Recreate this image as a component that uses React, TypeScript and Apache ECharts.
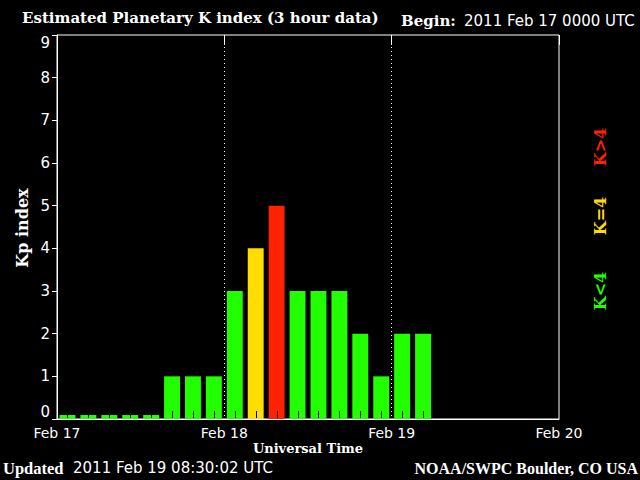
import React, { useEffect, useRef } from "react";
import * as echarts from "echarts";

const hours = ["00", "03", "06", "09", "12", "15", "18", "21"];
const days = ["Feb 17", "Feb 18", "Feb 19"];
const slotLabels = days.flatMap((d) => hours.map((h) => `${d} ${h}`));
// Kp values for the 3-hour slots that have data (Feb 17 00 UT .. Feb 19 03 UT)
const kpValues: number[] = [
  0, 0, 0, 0, 0, 1, 1, 1,
  3, 4, 5, 3, 3, 3, 2, 1,
  2, 2,
];
const dayTickLabels = ["Feb 17", "Feb 18", "Feb 19", "Feb 20"];
const kpTicks = [0, 1, 2, 3, 4, 5, 6, 7, 8, 9];

const GREEN = "#22ff00";
const YELLOW = "#ffdd00";
const RED = "#ff2200";

const SERIF = '"DejaVu Serif", "Liberation Serif", serif';
const LSERIF = '"Liberation Serif", "DejaVu Serif", serif';
const SANS = '"DejaVu Sans", "Liberation Sans", sans-serif';

function colorFor(v: number) {
  if (v > 4) return RED;
  if (v === 4) return YELLOW;
  return GREEN;
}

export default function App() {
  const ref = useRef<HTMLDivElement>(null);
  useEffect(() => {
    if (!ref.current) return;
    const chart = echarts.init(ref.current, undefined, { renderer: "svg" });
    chart.setOption({
      animation: false,
      backgroundColor: "#000",
      grid: {
        left: 57,
        right: 81,
        top: 35,
        bottom: 61,
        show: true,
        borderColor: "#fff",
        borderWidth: 1,
        backgroundColor: "transparent",
      },
      xAxis: [
        {
          type: "category",
          data: slotLabels,
          position: "bottom",
          z: 10,
          boundaryGap: true,
          axisLine: { show: true, lineStyle: { color: "#fff", width: 1 } },
          axisTick: { show: false },
          axisLabel: { show: false },
          splitLine: { show: false },
        },
        {
          type: "value",
          min: 0,
          max: 72,
          interval: 24,
          position: "bottom",
          axisLine: { show: false },
          axisTick: { show: false },
          axisLabel: {
            color: "#fff",
            fontFamily: SANS,
            fontSize: 14,
            margin: 7,
            formatter: (v: number) => dayTickLabels[Math.round(v / 24)] ?? "",
          },
          splitLine: {
            show: true,
            showMinLine: false,
            showMaxLine: false,
            lineStyle: { color: "#fff", width: 1, type: [1, 3] },
          },
        },
        {
          type: "value",
          min: 0,
          max: 72,
          interval: 24,
          position: "top",
          axisLine: { show: false },
          axisTick: {
            show: true,
            inside: true,
            length: 10,
            lineStyle: { color: "#fff", width: 1 },
          },
          axisLabel: { show: false },
          splitLine: { show: false },
        },
      ],
      yAxis: {
        type: "value",
        min: kpTicks[0],
        max: kpTicks[kpTicks.length - 1],
        interval: 1,
        axisLine: { show: true, lineStyle: { color: "#fff", width: 1 } },
        axisTick: { show: true, inside: false, length: 5, lineStyle: { color: "#fff" } },
        axisLabel: {
          color: "#fff",
          fontFamily: SANS,
          fontSize: 15,
          margin: 7,
          verticalAlignMinLabel: "bottom",
          verticalAlignMaxLabel: "top",
        },
        splitLine: { show: false },
      },
      series: [
        {
          type: "bar",
          xAxisIndex: 0,
          yAxisIndex: 0,
          barCategoryGap: "24%",
          barMinHeight: 4,
          z: 2,
          data: kpValues.map((v) => ({ value: v, itemStyle: { color: colorFor(v) } })),
        },
        {
          type: "custom",
          xAxisIndex: 0,
          yAxisIndex: 0,
          z: 3,
          silent: true,
          data: slotLabels.map((_, i) => [i, 0]),
          renderItem: (params: any, api: any) => {
            const p = api.coord([api.value(0), 0]);
            const x = Math.round(p[0]) + 0.5;
            return {
              type: "line",
              shape: { x1: x, y1: p[1] - 1, x2: x, y2: p[1] - 8 },
              style: { stroke: "#000", lineWidth: 1 },
            };
          },
        },
      ],
      graphic: [
        {
          type: "text",
          x: 22,
          y: 18,
          style: {
            text: "Estimated Planetary K index (3 hour data)",
            font: `bold 15px ${SERIF}`,
            fill: "#fff",
            textAlign: "left",
            textVerticalAlign: "middle",
          },
        },
        {
          type: "text",
          x: 401,
          y: 21,
          style: {
            text: "Begin:",
            font: `bold 15px ${SERIF}`,
            fill: "#fff",
            textAlign: "left",
            textVerticalAlign: "middle",
          },
        },
        {
          type: "text",
          x: 464,
          y: 21,
          style: {
            text: "2011 Feb 17 0000 UTC",
            font: `15px ${SANS}`,
            fill: "#fff",
            textAlign: "left",
            textVerticalAlign: "middle",
          },
        },
        {
          type: "text",
          x: 22,
          y: 228,
          rotation: Math.PI / 2,
          style: {
            text: "Kp index",
            font: `bold 16px ${SERIF}`,
            fill: "#fff",
            textAlign: "center",
            textVerticalAlign: "middle",
          },
        },
        {
          type: "text",
          x: 308,
          y: 448,
          style: {
            text: "Universal Time",
            font: `bold 13px ${SERIF}`,
            fill: "#fff",
            textAlign: "center",
            textVerticalAlign: "middle",
          },
        },
        {
          type: "text",
          x: 3,
          y: 468,
          style: {
            text: "Updated",
            font: `bold 16.5px ${LSERIF}`,
            fill: "#fff",
            textAlign: "left",
            textVerticalAlign: "middle",
          },
        },
        {
          type: "text",
          x: 73,
          y: 468,
          style: {
            text: "2011 Feb 19 08:30:02 UTC",
            font: `15px ${SANS}`,
            fill: "#fff",
            textAlign: "left",
            textVerticalAlign: "middle",
          },
        },
        {
          type: "text",
          x: 638,
          y: 468,
          style: {
            text: "NOAA/SWPC Boulder, CO USA",
            font: `bold 16px ${LSERIF}`,
            fill: "#fff",
            textAlign: "right",
            textVerticalAlign: "middle",
          },
        },
        {
          type: "text",
          x: 600,
          y: 147,
          rotation: Math.PI / 2,
          style: {
            text: "K>4",
            font: `bold 16px ${SERIF}`,
            fill: RED,
            textAlign: "center",
            textVerticalAlign: "middle",
          },
        },
        {
          type: "text",
          x: 600,
          y: 216,
          rotation: Math.PI / 2,
          style: {
            text: "K=4",
            font: `bold 16px ${SERIF}`,
            fill: YELLOW,
            textAlign: "center",
            textVerticalAlign: "middle",
          },
        },
        {
          type: "text",
          x: 600,
          y: 291,
          rotation: Math.PI / 2,
          style: {
            text: "K<4",
            font: `bold 16px ${SERIF}`,
            fill: GREEN,
            textAlign: "center",
            textVerticalAlign: "middle",
          },
        },
      ],
    });
    return () => chart.dispose();
  }, []);
  return (
    <div
      ref={ref}
      style={{ position: "fixed", left: 0, top: 0, width: 640, height: 480, background: "#000" }}
    />
  );
}
